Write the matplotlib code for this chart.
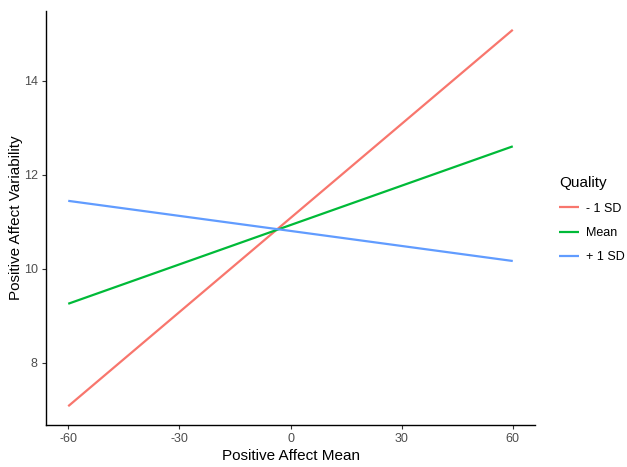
import matplotlib
matplotlib.use("Agg")
import matplotlib.pyplot as plt
import numpy as np

plt.rcParams['font.family'] = ['Liberation Sans', 'DejaVu Sans']

x_vals = [-60, 60]
groups = ["- 1 SD", "Mean", "+ 1 SD"]
minus_sd = [7.07, 15.08]
mean_vals = [9.25, 12.60]
plus_sd = [11.44, 10.16]
colors = ["#F8766D", "#00BA38", "#619CFF"]
xticks = [-60, -30, 0, 30, 60]
yticks = [8, 10, 12, 14]

fig = plt.figure(figsize=(6.27, 4.67), dpi=100)
ax = fig.add_axes([46/627, 1-425/467, (535-46)/627, (425-11)/467])

for name, vals, c in zip(groups, [minus_sd, mean_vals, plus_sd], colors):
    ax.plot(x_vals, vals, color=c, lw=1.6, label=name, solid_capstyle='butt')

ax.set_xlim(-66, 66)
ax.set_ylim(6.67, 15.48)
ax.set_xticks(xticks)
ax.set_yticks(yticks)
ax.set_xticklabels([str(v) for v in xticks])
for s in ['top', 'right']:
    ax.spines[s].set_visible(False)
for s in ['left', 'bottom']:
    ax.spines[s].set_color('black')
    ax.spines[s].set_linewidth(1.0)
ax.tick_params(axis='both', direction='out', length=3, width=0.8, color='#333333',
               labelcolor='#4D4D4D', labelsize=9, pad=3)
ax.set_xlabel("Positive Affect Mean", fontsize=11, color='black', labelpad=3)
ax.set_ylabel("Positive Affect Variability", fontsize=11, color='black', labelpad=0.5)

leg = fig.legend(title="Quality", loc='upper left', bbox_to_anchor=(554/627, 1-171/467),
                 frameon=False, fontsize=9, title_fontsize=11, handlelength=1.6,
                 labelspacing=1.0, handletextpad=0.55, borderaxespad=0)
leg._legend_box.align = "left"
leg._legend_box.sep = 9

fig.savefig("out.png", dpi=100)
